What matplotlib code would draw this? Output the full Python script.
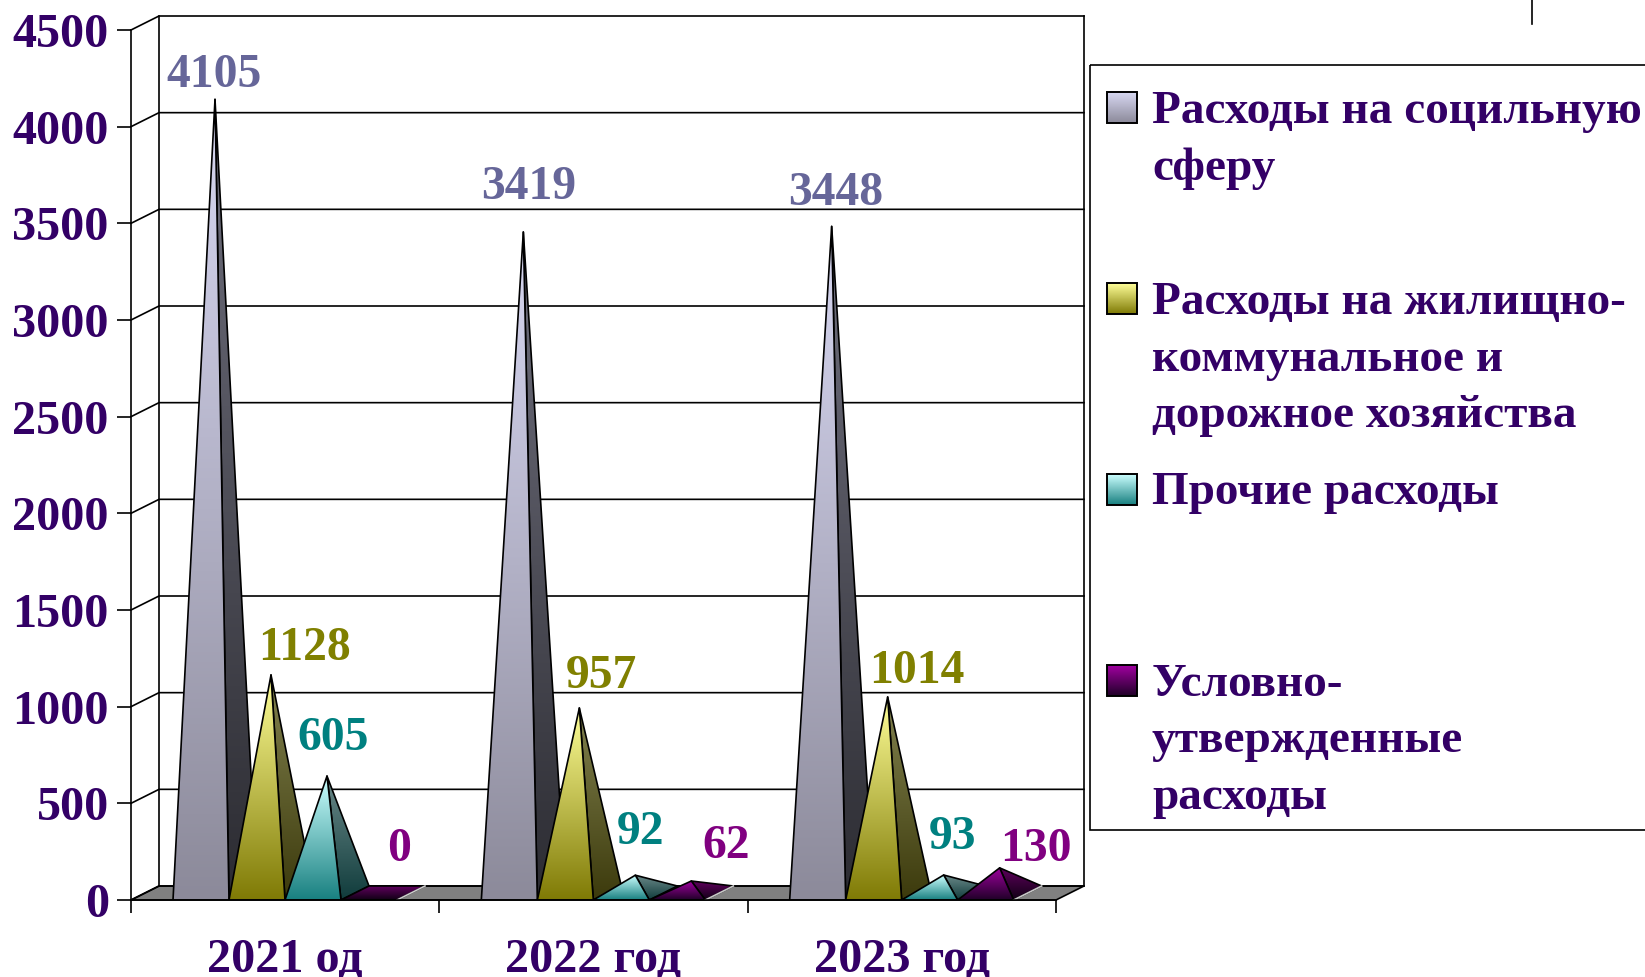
from matplotlib import pyplot as plt
from matplotlib.colors import LinearSegmentedColormap
from matplotlib.patches import Polygon, Rectangle
import numpy as np

W, H = 1645, 977

categories = ["2021 од", "2022 год", "2023 год"]
social = [4105, 3419, 3448]
housing = [1128, 957, 1014]
other = [605, 92, 93]
reserved = [0, 62, 130]
y_ticks = [0, 500, 1000, 1500, 2000, 2500, 3000, 3500, 4000, 4500]

legend_labels = [
    "Расходы на социльную\nсферу",
    "Расходы на жилищно-\nкоммунальное и\nдорожное хозяйства",
    "Прочие расходы",
    "Условно-\nутвержденные\nрасходы",
]

# top/bottom gradient colours for the front and the side of each series
front_colors = [("#D8D8F2", "#8C8A9A"), ("#FFFF99", "#7F7A05"),
                ("#CCFFFF", "#188080"), ("#A000A0", "#200028")]
side_colors = [("#70707E", "#2C2C32"), ("#82824F", "#3C3A0C"),
               ("#6A8888", "#103C3C"), ("#60005E", "#100014")]
label_colors = ["#666699", "#808000", "#008080", "#800080"]
TEXT = "#330066"
LW = 1.2

# label centres in figure pixels, these were dragged by hand in the original
label_pos = [
    [(214, 75), (529, 187), (836, 193)],
    [(304, 648), (601, 676), (917, 671)],
    [(333, 738), (640, 832), (953, 837)],
    [(399, 849), (726, 846), (1036, 849)],
]
series = [social, housing, other, reserved]

# axes box is the front plane of the 3d chart
L, R, B, T = 131, 1056, 900, 30
DEPTH_X = 28 / ((R - L) / 3)
DEPTH_Y = 14 * 4500 / (B - T)
BAR_W = 56 / ((R - L) / 3)
BAR_START = 42 / ((R - L) / 3)

plt.rcParams["font.family"] = ["Liberation Serif", "DejaVu Serif"]
plt.rcParams["font.weight"] = "bold"

fig = plt.figure(figsize=(W / 100, H / 100), dpi=100)
ax = fig.add_axes([L / W, 1 - B / H, (R - L) / W, (B - T) / H])
ax.set_xlim(0, 3)
ax.set_ylim(0, 4500)


def gradient_poly(points, top, bottom, z):
    points = np.array(points)
    cmap = LinearSegmentedColormap.from_list("g", [bottom, top])
    poly = Polygon(points, closed=True, fc="none", ec="black", lw=LW, zorder=z + 0.1,
                   joinstyle="round")
    ax.add_patch(poly)
    extent = (points[:, 0].min(), points[:, 0].max(), points[:, 1].min(), points[:, 1].max())
    im = ax.imshow(np.linspace(1, 0, 256).reshape(-1, 1), extent=extent, aspect="auto",
                   cmap=cmap, vmin=0, vmax=1, zorder=z, interpolation="bilinear")
    im.set_clip_path(poly)


def draw_pyramid(x0, value, s, z):
    x1 = x0 + BAR_W
    if value == 0:
        gradient_poly([(x0, 0), (x1, 0), (x1 + DEPTH_X, DEPTH_Y), (x0 + DEPTH_X, DEPTH_Y)],
                      side_colors[s][0], side_colors[s][1], z)
    else:
        apex = ((x0 + x1) / 2 + DEPTH_X / 2, value + DEPTH_Y / 2)
        gradient_poly([(x1, 0), (x1 + DEPTH_X, DEPTH_Y), apex], side_colors[s][0], side_colors[s][1], z)
        gradient_poly([(x0, 0), (x1, 0), apex], front_colors[s][0], front_colors[s][1], z + 0.2)
    # the last series has a pale edge against the floor
    if s == len(series) - 1:
        ax.plot([x1, x1 + DEPTH_X], [0, DEPTH_Y], color="#C8C8C8", lw=LW, zorder=z + 0.3)


# walls and floor
ax.add_patch(Polygon([(0, 0), (3, 0), (3 + DEPTH_X, DEPTH_Y), (DEPTH_X, DEPTH_Y)],
                     fc="#808080", ec="black", lw=LW, clip_on=False, zorder=1))
for t in y_ticks:
    ax.plot([0, DEPTH_X, 3 + DEPTH_X], [t, t + DEPTH_Y, t + DEPTH_Y], color="black", lw=LW,
            clip_on=False, zorder=1)
ax.plot([DEPTH_X, DEPTH_X], [DEPTH_Y, 4500 + DEPTH_Y], color="black", lw=LW, clip_on=False, zorder=1)
ax.plot([3 + DEPTH_X, 3 + DEPTH_X], [DEPTH_Y, 4500 + DEPTH_Y], color="black", lw=LW,
        clip_on=False, zorder=1)

z = 2
for c in range(len(categories)):
    for s in range(len(series)):
        draw_pyramid(c + BAR_START + s * BAR_W, series[s][c], s, z)
        z += 1

# ticks come from the axes
for side in ["top", "right"]:
    ax.spines[side].set_visible(False)
for side in ["left", "bottom"]:
    ax.spines[side].set_linewidth(LW)
    ax.spines[side].set_zorder(z)
ax.patch.set_alpha(0)
ax.spines["left"].set_bounds(0, 4500)
ax.set_yticks(y_ticks)
ax.set_yticklabels([str(t) for t in y_ticks], fontsize=34.7, color=TEXT)
ax.tick_params(axis="y", length=10, width=LW, pad=6)
ax.set_xticks([0, 1, 2, 3])
ax.set_xticklabels([])
ax.tick_params(axis="x", which="major", length=9.5, width=LW)
ax.set_xticks([0.5, 1.5, 2.5], minor=True)
ax.set_xticklabels(categories, minor=True, fontsize=34.7, color=TEXT)
ax.tick_params(axis="x", which="minor", length=0, pad=27)

# value labels
overlay = fig.add_axes([0, 0, 1, 1], facecolor="none")
overlay.set_xlim(0, W)
overlay.set_ylim(H, 0)
overlay.axis("off")
for s, vals in enumerate(series):
    for v, (px, py) in zip(vals, label_pos[s]):
        overlay.text(px, py, str(v), color=label_colors[s], fontsize=34.3, ha="center", va="center")

# legend, its box runs off the right edge of the slide
overlay.add_patch(Rectangle((1090, 65), 700, 765, fc="none", ec="black", lw=LW))
overlay.plot([1532, 1532], [0, 24], color="black", lw=LW)
swatch_y = [92, 283, 474, 665]
line_y = [[112, 169], [303, 360, 416], [493], [685, 741, 798]]
for i, label in enumerate(legend_labels):
    y = swatch_y[i]
    cmap = LinearSegmentedColormap.from_list("g", [front_colors[i][1], front_colors[i][0]])
    overlay.imshow(np.linspace(1, 0, 64).reshape(-1, 1), extent=(1107, 1137, y + 31, y), aspect="auto",
                   cmap=cmap, vmin=0, vmax=1, zorder=2)
    overlay.add_patch(Rectangle((1107, y), 30, 31, fc="none", ec="black", lw=1.4, zorder=3))
    for line, ly in zip(label.split("\n"), line_y[i]):
        overlay.text(1152, ly, line, color=TEXT, fontsize=34, ha="left", va="center")
overlay.set_xlim(0, W)
overlay.set_ylim(H, 0)

fig.savefig("out.png", dpi=100)
